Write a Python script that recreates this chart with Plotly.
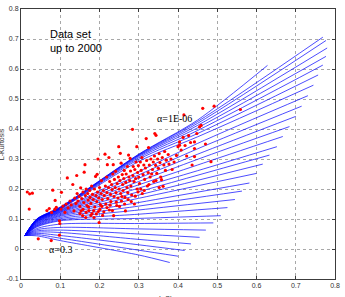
import plotly.graph_objects as go

# ---------------- data ----------------
X_TICKS = [0, 0.1, 0.2, 0.3, 0.4, 0.5, 0.6, 0.7, 0.8]
X_TICK_TEXT = ["0", "0.1", "0.2", "0.3", "0.4", "0.5", "0.6", "0.7", "0.8"]
Y_TICKS = [-0.1, 0, 0.1, 0.2, 0.3, 0.4, 0.5, 0.6, 0.7, 0.8]
Y_TICK_TEXT = ["-0.1", "0", "0.1", "0.2", "0.3", "0.4", "0.5", "0.6", "0.7", "0.8"]

# theoretical curves (alpha = 1E-06 at top ... alpha = 0.3 at bottom)
LINE_START_X = 0.01
LINE_START_Y = 0.045
Y_AT_004 = [0.100, 0.0995, 0.099, 0.0985, 0.098, 0.0975, 0.097, 0.096,
            0.095, 0.094, 0.093, 0.092, 0.090, 0.089, 0.087, 0.085, 0.083, 0.081, 0.079, 0.077, 0.075,
            0.073, 0.068, 0.064, 0.060, 0.056, 0.052, 0.048, 0.044]
Y_AT_010 = [0.140, 0.139, 0.138, 0.137, 0.136, 0.135, 0.134, 0.133,
            0.131, 0.129, 0.127, 0.125, 0.123, 0.121, 0.118, 0.115, 0.112, 0.109, 0.105, 0.101, 0.097,
            0.094, 0.083, 0.072, 0.063, 0.055, 0.045, 0.036, 0.028]
Y_AT_030 = [0.316, 0.315, 0.313, 0.311, 0.308, 0.304, 0.299, 0.292,
            0.258, 0.247, 0.236, 0.225, 0.214, 0.203,
            0.191, 0.180, 0.169, 0.155, 0.143, 0.130, 0.116, 0.102, 0.085, 0.067, 0.050,
            0.032, 0.014, -0.004, -0.020]
Y_AT_045 = [0.430, 0.425, 0.419, 0.412, 0.404, 0.395, 0.385, 0.374,
            0.352, 0.334, 0.316, 0.299, 0.280, 0.261,
            None, None, None, None, None, None, None, None, None, None, None,
            None, None, None, None]
END_X = [0.628, 0.769, 0.777, 0.780, 0.777, 0.769, 0.757, 0.745,
         0.731, 0.715, 0.700, 0.684, 0.667, 0.652,
         0.633, 0.616, 0.600, 0.582, 0.563, 0.545, 0.526, 0.509, 0.490, 0.471, 0.455,
         0.433, 0.417, 0.400, 0.379]
END_Y = [0.612, 0.706, 0.695, 0.670, 0.642, 0.613, 0.580, 0.546,
         0.511, 0.476, 0.442, 0.408, 0.375, 0.341,
         0.313, 0.283, 0.252, 0.220, 0.193, 0.165, 0.138, 0.111, 0.087, 0.063, 0.039,
         0.017, -0.005, -0.024, -0.045]

# observed data set (L-skewness, L-kurtosis)
OBS_SKEW = [
    0.016, 0.022, 0.029, 0.021, 0.044, 0.077, 0.081, 0.087, 0.098, 0.103, 0.066, 0.072, 0.078, 0.086,
    0.090, 0.098, 0.099, 0.102, 0.107, 0.112, 0.115, 0.118, 0.120, 0.125, 0.128,
    0.132, 0.135, 0.137, 0.140, 0.142, 0.143, 0.145, 0.148, 0.150, 0.152, 0.153, 0.155, 0.157, 0.158,
    0.160, 0.161, 0.163, 0.164, 0.165, 0.166, 0.168, 0.170, 0.171, 0.173, 0.175, 0.176, 0.178, 0.180,
    0.181, 0.182, 0.184, 0.186, 0.187, 0.188, 0.190, 0.191, 0.193, 0.194, 0.195, 0.196, 0.197, 0.198,
    0.199, 0.200,
    0.202, 0.204, 0.205, 0.207, 0.208, 0.210, 0.212, 0.214, 0.215, 0.216, 0.218, 0.219, 0.220, 0.221,
    0.223, 0.224, 0.225, 0.226, 0.228, 0.229, 0.231, 0.232, 0.234, 0.235, 0.236, 0.237, 0.238, 0.240,
    0.241, 0.242, 0.244, 0.245, 0.247, 0.248, 0.249, 0.250, 0.252, 0.253, 0.254, 0.255, 0.256, 0.258,
    0.259, 0.260, 0.262, 0.263, 0.265, 0.266, 0.267, 0.268, 0.270, 0.271, 0.272, 0.274, 0.275, 0.277,
    0.278, 0.279, 0.280, 0.282, 0.284, 0.285, 0.286, 0.288, 0.289, 0.290, 0.292, 0.293, 0.295, 0.296,
    0.297, 0.299,
    0.150, 0.158, 0.166, 0.172, 0.178, 0.185, 0.192, 0.201, 0.206, 0.211, 0.219, 0.227, 0.233, 0.243,
    0.251, 0.257, 0.264, 0.273, 0.281, 0.291, 0.298, 0.305, 0.314, 0.326, 0.344, 0.352,
    0.300, 0.302, 0.304, 0.306, 0.308, 0.309, 0.311, 0.313, 0.315, 0.317, 0.319, 0.320, 0.322, 0.324,
    0.325, 0.327, 0.329, 0.331, 0.333, 0.335, 0.337, 0.338, 0.340, 0.341, 0.343, 0.344, 0.346, 0.348,
    0.350, 0.352, 0.354, 0.356, 0.358, 0.360, 0.362, 0.364, 0.366, 0.368, 0.370, 0.375,
    0.377, 0.382, 0.385, 0.390, 0.396, 0.400,
    0.404, 0.404, 0.408, 0.413, 0.415, 0.418, 0.422, 0.427, 0.432, 0.436, 0.442, 0.442, 0.442, 0.448,
    0.455, 0.459, 0.463, 0.470, 0.484, 0.492, 0.559,
]
OBS_KURT = [
    0.190, 0.184, 0.186, 0.133, 0.034, 0.028, 0.196, 0.162, 0.046, 0.189, 0.128, 0.135, 0.122, 0.132,
    0.139, 0.094, 0.085, 0.133, 0.143, 0.122, 0.150, 0.237, 0.137, 0.160, 0.147,
    0.215, 0.127, 0.170, 0.152, 0.245, 0.185, 0.160, 0.175, 0.142, 0.204, 0.127, 0.168, 0.111, 0.190,
    0.155, 0.256, 0.281, 0.178, 0.105, 0.200, 0.145, 0.185, 0.163, 0.128, 0.195, 0.172, 0.152, 0.210,
    0.118, 0.182, 0.165, 0.105, 0.200, 0.140, 0.242, 0.178, 0.158, 0.249, 0.190, 0.300, 0.125, 0.170,
    0.088, 0.205,
    0.148, 0.185, 0.228, 0.165, 0.112, 0.195, 0.178, 0.316, 0.210, 0.150, 0.240, 0.188, 0.281, 0.168,
    0.205, 0.305, 0.130, 0.225, 0.182, 0.158, 0.215, 0.198, 0.250, 0.281, 0.111, 0.175, 0.232, 0.205,
    0.259, 0.188, 0.145, 0.218, 0.170, 0.240, 0.341, 0.200, 0.228, 0.319, 0.185, 0.286, 0.160, 0.248,
    0.215, 0.195, 0.235, 0.262, 0.172, 0.127, 0.222, 0.250, 0.205, 0.275, 0.188, 0.313, 0.240, 0.228,
    0.302, 0.260, 0.210, 0.180, 0.399, 0.245, 0.275, 0.225, 0.150, 0.265, 0.235, 0.290, 0.341, 0.200,
    0.255, 0.278,
    0.118, 0.132, 0.122, 0.140, 0.112, 0.128, 0.117, 0.132, 0.142, 0.124, 0.138, 0.146, 0.128, 0.156,
    0.142, 0.175, 0.150, 0.165, 0.158, 0.176, 0.190, 0.200, 0.195, 0.215, 0.228, 0.205,
    0.240, 0.218, 0.290, 0.262, 0.305, 0.185, 0.248, 0.280, 0.232, 0.270, 0.368, 0.295, 0.210, 0.255,
    0.338, 0.280, 0.240, 0.300, 0.250, 0.265, 0.290, 0.225, 0.310, 0.385, 0.279, 0.379, 0.252, 0.300,
    0.269, 0.318, 0.288, 0.240, 0.231, 0.305, 0.209, 0.280, 0.325, 0.262, 0.296, 0.315,
    0.283, 0.300, 0.265, 0.290, 0.312, 0.341,
    0.357, 0.346, 0.330, 0.372, 0.447, 0.345, 0.310, 0.378, 0.355, 0.280, 0.357, 0.335, 0.308, 0.385,
    0.407, 0.412, 0.469, 0.350, 0.291, 0.476, 0.465,
]

ANNOT_FONT = "Liberation Sans, Arial, sans-serif"
SERIF_FONT = "Liberation Serif, Times New Roman, serif"

fig = go.Figure()

for i in range(len(END_X)):
    xs = [LINE_START_X, 0.04, 0.10, 0.30]
    ys = [LINE_START_Y, Y_AT_004[i], Y_AT_010[i], Y_AT_030[i]]
    if Y_AT_045[i] is not None:
        xs.append(0.45)
        ys.append(Y_AT_045[i])
    xs.append(END_X[i])
    ys.append(END_Y[i])
    fig.add_trace(go.Scatter(
        x=xs, y=ys, mode="lines",
        line=dict(color="rgb(0,0,255)", width=0.7, shape="spline", smoothing=0.8),
        hoverinfo="skip", showlegend=False,
    ))

fig.add_trace(go.Scatter(
    x=OBS_SKEW, y=OBS_KURT, mode="markers",
    marker=dict(color="rgb(255,0,0)", size=3.2, line=dict(width=0)),
    showlegend=False,
))

axis_common = dict(
    showgrid=True, gridcolor="#a8a8a8", griddash="dot", gridwidth=1,
    zeroline=False, showline=True, linecolor="#3c3c3c", linewidth=1,
    mirror="ticks", ticks="inside", ticklen=3, tickcolor="#3c3c3c",
    tickfont=dict(family=ANNOT_FONT, size=7, color="#333333"),
)

fig.update_layout(
    width=345, height=297,
    margin=dict(l=21, r=6, t=5, b=18),
    paper_bgcolor="white", plot_bgcolor="white",
    xaxis=dict(range=[0, 0.8], tickvals=X_TICKS, ticktext=X_TICK_TEXT, **axis_common),
    yaxis=dict(range=[-0.1, 0.8], tickvals=Y_TICKS, ticktext=Y_TICK_TEXT, **axis_common),
    annotations=[
        dict(x=0.07, y=0.745, xref="x", yref="y", xanchor="left", yanchor="top",
             text="Data set<br>up to 2000", showarrow=False, align="left",
             font=dict(family=ANNOT_FONT, size=11, color="black")),
        dict(x=0.39, y=0.436, xref="x", yref="y", xanchor="center", yanchor="middle",
             text="α=1E-06", showarrow=False,
             font=dict(family=SERIF_FONT, size=10, color="black")),
        dict(x=0.10, y=-0.003, xref="x", yref="y", xanchor="center", yanchor="middle",
             text="α=0.3", showarrow=False,
             font=dict(family=SERIF_FONT, size=10, color="black")),
        dict(x=0.5, y=-0.051, xref="paper", yref="paper", xanchor="center", yanchor="top",
             text="L-Skewness", showarrow=False,
             font=dict(family=ANNOT_FONT, size=7, color="#333333")),
        dict(x=-0.063, y=0.5, xref="paper", yref="paper", xanchor="center", yanchor="middle",
             text="L-Kurtosis", showarrow=False, textangle=-90,
             font=dict(family=ANNOT_FONT, size=7, color="#333333")),
    ],
)

fig.write_html("out.html")
